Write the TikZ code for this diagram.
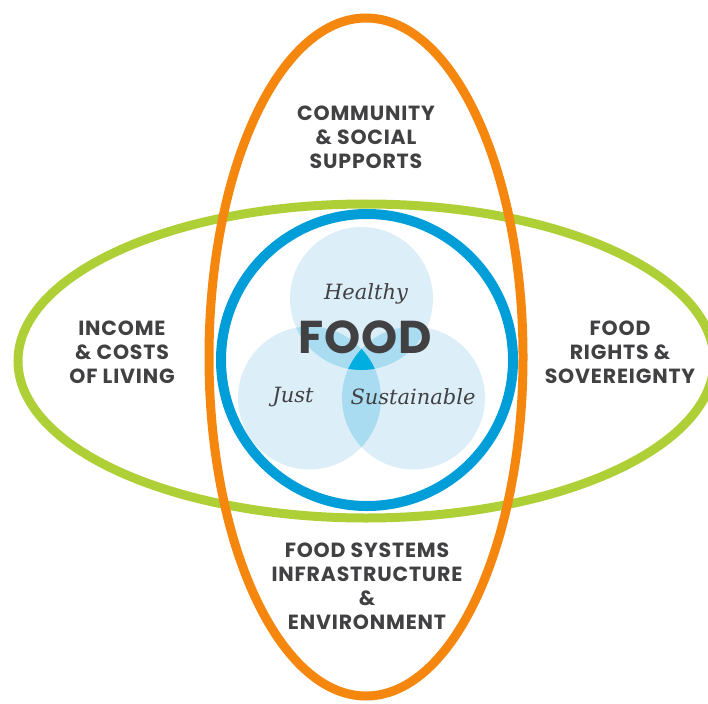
\documentclass[tikz,border=0pt]{standalone}
\usepackage{fontspec}
\newfontfamily\labfont{Poppins}[LetterSpace=4]
\newfontfamily\foodfont{Poppins}[LetterSpace=2]
\newfontfamily\italfont{DejaVu Serif}
\definecolor{txt}{HTML}{414042}
\definecolor{orng}{HTML}{F5870F}
\definecolor{grn}{HTML}{AECF35}
\definecolor{blu}{HTML}{009ED8}
\definecolor{lite}{HTML}{DCEEF7}
\definecolor{mid}{HTML}{A9DCF0}
\definecolor{deep}{HTML}{00AEDF}
\tikzset{
  lab/.style={text=txt, font=\labfont\bfseries\fontsize{20.5}{24}\selectfont, align=center, inner sep=0pt},
  ital/.style={text=txt, font=\italfont\itshape\fontsize{21}{24}\selectfont, inner sep=0pt},
  ring/.style={line width=9pt}
}
\begin{document}
\begin{tikzpicture}[x=1pt,y=-1pt]
\useasboundingbox (0,0) rectangle (708,703);
\clip (0,0) rectangle (708,703);
% light circles
\fill[lite] (361.5,298.5) circle [radius=71.5pt];
\fill[lite] (309.5,398) circle [radius=71.5pt];
\fill[lite] (413.5,398) circle [radius=71.5pt];
\begin{scope}
  \clip (361.5,298.5) circle [radius=71.5pt];
  \fill[mid] (309.5,398) circle [radius=71.5pt];
  \fill[mid] (413.5,398) circle [radius=71.5pt];
\end{scope}
\begin{scope}
  \clip (309.5,398) circle [radius=71.5pt];
  \fill[mid] (413.5,398) circle [radius=71.5pt];
\end{scope}
\begin{scope}
  \clip (361.5,298.5) circle [radius=71.5pt];
  \clip (309.5,398) circle [radius=71.5pt];
  \fill[deep] (413.5,398) circle [radius=71.5pt];
\end{scope}
% rings
\draw[ring, grn] (366,361) ellipse [x radius=348pt, y radius=157pt];
\draw[ring, orng] (366,357) ellipse [x radius=157pt, y radius=339pt];
\draw[ring, blu, line width=10pt] (367,360) circle [radius=146pt];
% texts
\node[ital] (healthy) at (366,294) {Healthy};
\node[ital] (just) at (293,397) {Just};
\node[ital] (sust) at (413,397) {Sustainable};
\node[text=txt, font=\foodfont\bfseries\fontsize{46}{46}\selectfont, inner sep=0pt] (food) at (365,337) {FOOD};
\node[lab] (comm) at (366,137) {COMMUNITY\\\& SOCIAL\\SUPPORTS};
\node[lab] (income) at (122,352) {INCOME\\\& COSTS\\OF LIVING};
\node[lab] (rights) at (620,352) {FOOD\\RIGHTS \&\\SOVEREIGNTY};
\node[lab] (sys) at (367,586) {FOOD SYSTEMS\\INFRASTRUCTURE\\\&\\ENVIRONMENT};
\end{tikzpicture}
\end{document}
